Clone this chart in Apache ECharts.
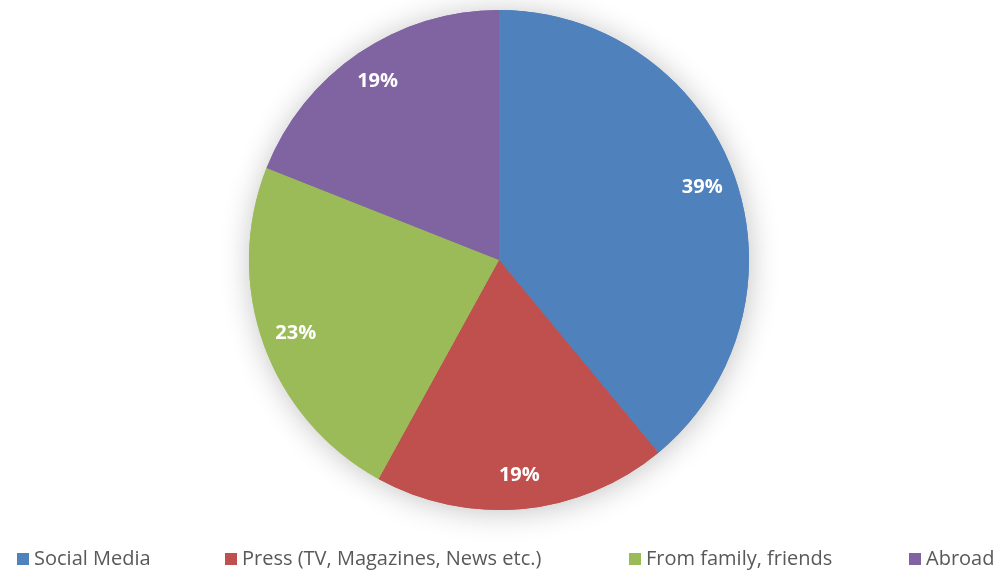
<!DOCTYPE html>
<html>
<head>
<meta charset="utf-8">
<script src="https://cdn.jsdelivr.net/npm/echarts@6/dist/echarts.min.js"></script>
<style>
  html, body { margin: 0; padding: 0; background: #ffffff; }
  #chart { width: 1007px; height: 575px; }
</style>
</head>
<body>
<div id="chart"></div>
<script>
// Sources of information, share of respondents (%)
const categories = ['Social Media', 'Press (TV, Magazines, News etc.)', 'From family, friends', 'Abroad'];
const shares = [39, 19, 23, 19];
const colors = ['#4F81BD', '#C0504D', '#9BBB59', '#8064A2'];
const legendLeft = [12, 220, 624, 904];

const FONT = '"Open Sans", "Noto Sans", sans-serif';
const data = categories.map((name, i) => ({ name, value: shares[i] }));

const center = [499, 260];
const R = 250;

const chart = echarts.init(document.getElementById('chart'), null, { renderer: 'canvas' });

chart.setOption({
  backgroundColor: '#ffffff',
  animation: false,
  color: colors,
  legend: categories.map((name, i) => ({
    data: [name],
    left: legendLeft[i],
    top: 544,
    icon: 'rect',
    itemWidth: 12,
    itemHeight: 12,
    itemGap: 6,
    textStyle: { color: '#595959', fontSize: 20, fontFamily: FONT },
    selectedMode: false
  })),
  series: [
    {
      // soft drop shadow beneath the pie
      type: 'pie',
      z: 1,
      center: center,
      radius: R,
      startAngle: 90,
      silent: true,
      legendHoverLink: false,
      data: data,
      label: { show: false },
      labelLine: { show: false },
      itemStyle: {
        shadowBlur: 30,
        shadowColor: 'rgba(0,0,0,0.24)',
        shadowOffsetX: 1,
        shadowOffsetY: 2
      }
    },
    {
      // filled slices
      type: 'pie',
      z: 2,
      center: center,
      radius: R,
      startAngle: 90,
      silent: true,
      data: data,
      label: { show: false },
      labelLine: { show: false }
    },
    {
      // transparent ring carrying the percentage labels near the rim
      type: 'pie',
      z: 3,
      center: center,
      radius: [176, R],
      startAngle: 90,
      silent: true,
      legendHoverLink: false,
      data: data,
      itemStyle: { color: 'rgba(0,0,0,0)' },
      label: {
        show: true,
        position: 'inside',
        formatter: p => p.value + '%',
        color: '#ffffff',
        fontSize: 20,
        fontWeight: 'bold',
        fontFamily: FONT
      },
      labelLine: { show: false }
    }
  ]
});
</script>
</body>
</html>
